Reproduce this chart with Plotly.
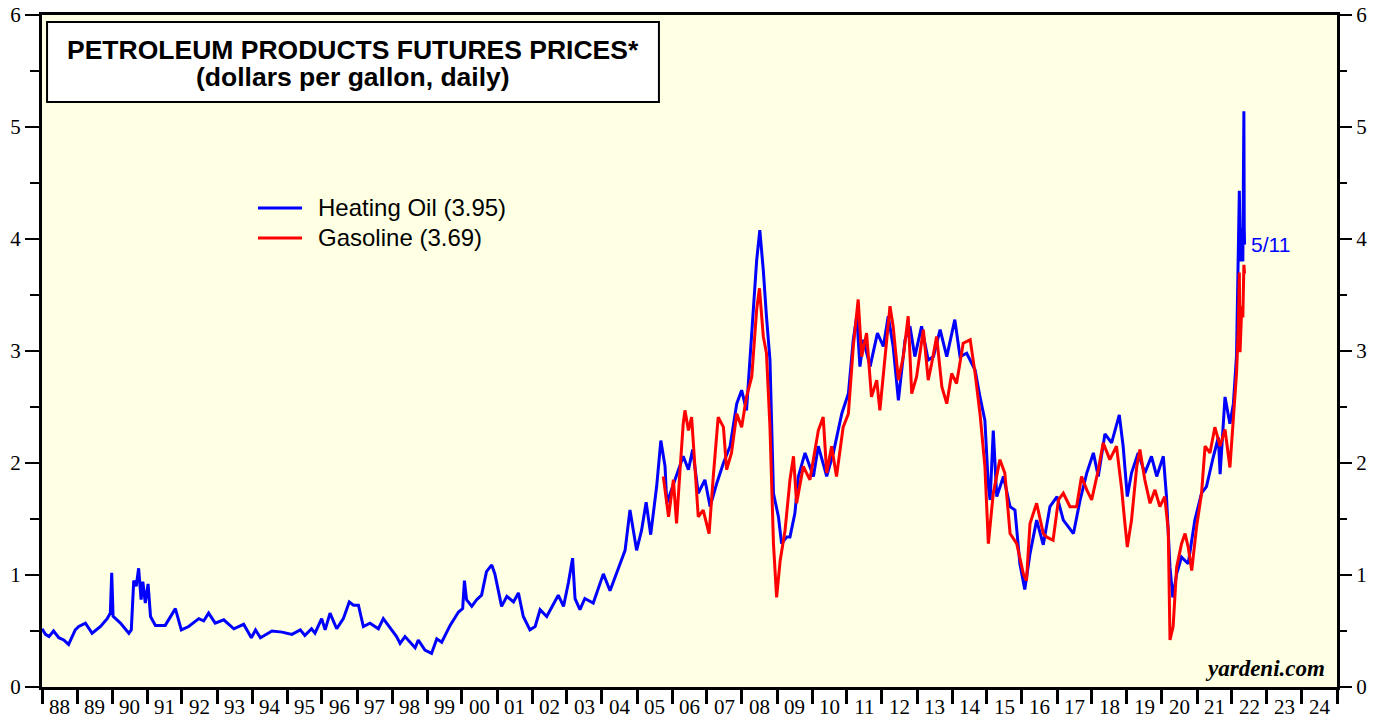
import datetime as dt
import plotly.graph_objects as go

# ---------------- data (decimal year, $/gallon) ----------------
ho_t = [1988.00, 1988.10, 1988.20, 1988.33, 1988.48, 1988.62, 1988.76, 1988.95, 1989.05, 1989.24,
        1989.43, 1989.67, 1989.86, 1989.95, 1989.99, 1990.03, 1990.24, 1990.48, 1990.55, 1990.62,
        1990.69, 1990.76, 1990.83, 1990.88, 1990.95, 1991.03, 1991.10, 1991.24, 1991.52, 1991.67,
        1991.81, 1991.98, 1992.19, 1992.48, 1992.62, 1992.76, 1992.95, 1993.19, 1993.48, 1993.76,
        1993.98, 1994.10, 1994.24, 1994.57, 1994.86, 1995.14, 1995.38, 1995.51, 1995.70, 1995.80,
        1995.99, 1996.09, 1996.23, 1996.42, 1996.61, 1996.78, 1996.90, 1997.04, 1997.18, 1997.37,
        1997.61, 1997.75, 1997.90, 1998.13, 1998.23, 1998.37, 1998.66, 1998.75, 1998.94, 1999.13,
        1999.28, 1999.42, 1999.66, 1999.90, 2000.02, 2000.07, 2000.13, 2000.28, 2000.42, 2000.56,
        2000.70, 2000.85, 2000.94, 2001.13, 2001.28, 2001.47, 2001.61, 2001.75, 2001.94, 2002.09,
        2002.23, 2002.42, 2002.75, 2002.90, 2003.04, 2003.16, 2003.23, 2003.37, 2003.51, 2003.75,
        2004.04, 2004.23, 2004.47, 2004.66, 2004.80, 2004.99, 2005.13, 2005.26, 2005.39, 2005.56,
        2005.68, 2005.80, 2005.85, 2006.09, 2006.32, 2006.47, 2006.59, 2006.75, 2006.94, 2007.09,
        2007.28, 2007.47, 2007.66, 2007.85, 2007.99, 2008.13, 2008.28, 2008.42, 2008.51, 2008.61,
        2008.70, 2008.80, 2008.90, 2009.04, 2009.13, 2009.28, 2009.37, 2009.51, 2009.61, 2009.80,
        2010.04, 2010.18, 2010.42, 2010.61, 2010.85, 2011.04, 2011.18, 2011.28, 2011.37, 2011.47,
        2011.66, 2011.87, 2012.04, 2012.18, 2012.32, 2012.47, 2012.66, 2012.80, 2012.94, 2013.13,
        2013.32, 2013.47, 2013.66, 2013.85, 2014.08, 2014.23, 2014.42, 2014.66, 2014.80, 2014.94,
        2015.04, 2015.09, 2015.18, 2015.28, 2015.47, 2015.66, 2015.80, 2015.94, 2016.08, 2016.23,
        2016.42, 2016.61, 2016.80, 2017.00, 2017.18, 2017.47, 2017.66, 2017.85, 2018.04, 2018.18,
        2018.37, 2018.56, 2018.78, 2018.89, 2019.01, 2019.13, 2019.32, 2019.51, 2019.70, 2019.85,
        2020.04, 2020.13, 2020.23, 2020.31, 2020.42, 2020.56, 2020.75, 2020.94, 2021.13, 2021.27,
        2021.47, 2021.61, 2021.66, 2021.80, 2021.94, 2022.04, 2022.13, 2022.18, 2022.21, 2022.24,
        2022.28, 2022.31, 2022.34, 2022.35, 2022.36]
ho_v = [0.52, 0.47, 0.45, 0.50, 0.44, 0.42, 0.38, 0.51, 0.54, 0.57,
        0.48, 0.54, 0.61, 0.66, 1.02, 0.63, 0.57, 0.48, 0.51, 0.95,
        0.90, 1.06, 0.78, 0.94, 0.75, 0.92, 0.63, 0.55, 0.55, 0.63,
        0.70, 0.51, 0.54, 0.61, 0.59, 0.66, 0.57, 0.60, 0.52, 0.56,
        0.44, 0.51, 0.44, 0.50, 0.49, 0.47, 0.51, 0.46, 0.52, 0.48,
        0.61, 0.51, 0.66, 0.52, 0.61, 0.76, 0.73, 0.73, 0.54, 0.57,
        0.52, 0.61, 0.55, 0.45, 0.39, 0.45, 0.35, 0.42, 0.33, 0.30,
        0.43, 0.40, 0.55, 0.67, 0.70, 0.95, 0.78, 0.72, 0.78, 0.82,
        1.03, 1.09, 1.01, 0.72, 0.81, 0.76, 0.84, 0.63, 0.51, 0.54,
        0.69, 0.63, 0.82, 0.72, 0.93, 1.15, 0.79, 0.69, 0.79, 0.75,
        1.01, 0.86, 1.06, 1.22, 1.58, 1.22, 1.40, 1.65, 1.36, 1.79,
        2.20, 1.97, 1.64, 1.85, 2.06, 1.94, 2.12, 1.73, 1.85, 1.61,
        1.82, 2.00, 2.15, 2.53, 2.65, 2.47, 3.13, 3.81, 4.08, 3.72,
        3.31, 2.92, 1.73, 1.52, 1.28, 1.34, 1.34, 1.55, 1.88, 2.09,
        1.88, 2.15, 1.88, 2.09, 2.44, 2.62, 3.10, 3.31, 2.86, 3.10,
        2.86, 3.16, 3.04, 3.31, 3.04, 2.56, 3.10, 3.22, 2.95, 3.22,
        2.92, 2.95, 3.19, 2.95, 3.28, 2.95, 2.98, 2.83, 2.59, 2.38,
        1.79, 1.67, 2.29, 1.70, 1.88, 1.61, 1.58, 1.10, 0.87, 1.19,
        1.49, 1.27, 1.61, 1.70, 1.49, 1.37, 1.67, 1.91, 2.09, 1.88,
        2.26, 2.18, 2.43, 2.15, 1.70, 1.91, 2.09, 1.91, 2.06, 1.88,
        2.06, 1.70, 1.07, 0.80, 1.01, 1.16, 1.10, 1.49, 1.73, 1.79,
        2.06, 2.23, 1.90, 2.59, 2.35, 2.53, 2.96, 3.79, 4.43, 3.80,
        4.10, 3.80, 5.14, 4.10, 3.95]

gas_t = [2005.75, 2005.90, 2006.04, 2006.13, 2006.23, 2006.32, 2006.37, 2006.47, 2006.56, 2006.66,
         2006.75, 2006.89, 2007.06, 2007.18, 2007.32, 2007.47, 2007.56, 2007.70, 2007.85, 2007.99,
         2008.13, 2008.28, 2008.42, 2008.50, 2008.61, 2008.70, 2008.80, 2008.90, 2008.99, 2009.09,
         2009.23, 2009.37, 2009.47, 2009.56, 2009.75, 2009.94, 2010.18, 2010.32, 2010.42, 2010.56,
         2010.70, 2010.89, 2011.04, 2011.18, 2011.32, 2011.42, 2011.56, 2011.70, 2011.85, 2011.94,
         2012.08, 2012.23, 2012.32, 2012.47, 2012.61, 2012.75, 2012.85, 2012.99, 2013.18, 2013.32,
         2013.42, 2013.56, 2013.71, 2013.85, 2013.99, 2014.13, 2014.32, 2014.52, 2014.66, 2014.80,
         2014.94, 2015.04, 2015.18, 2015.37, 2015.51, 2015.66, 2015.85, 2016.04, 2016.13, 2016.23,
         2016.42, 2016.61, 2016.70, 2016.89, 2017.04, 2017.18, 2017.37, 2017.56, 2017.70, 2017.85,
         2017.99, 2018.18, 2018.32, 2018.51, 2018.70, 2018.85, 2018.94, 2019.01, 2019.13, 2019.28,
         2019.37, 2019.51, 2019.66, 2019.80, 2019.94, 2020.08, 2020.18, 2020.23, 2020.32, 2020.42,
         2020.56, 2020.66, 2020.75, 2020.85, 2020.99, 2021.13, 2021.23, 2021.37, 2021.51, 2021.66,
         2021.80, 2021.94, 2022.04, 2022.13, 2022.18, 2022.21, 2022.23, 2022.28, 2022.31, 2022.34,
         2022.36]
gas_v = [1.88, 1.52, 1.85, 1.46, 1.94, 2.35, 2.47, 2.29, 2.41, 1.94,
         1.52, 1.58, 1.37, 1.88, 2.41, 2.32, 1.94, 2.09, 2.44, 2.32,
         2.59, 2.77, 3.37, 3.56, 3.13, 2.98, 2.32, 1.28, 0.80, 1.13,
         1.40, 1.85, 2.06, 1.64, 1.97, 1.85, 2.29, 2.41, 1.91, 2.15,
         1.88, 2.32, 2.44, 3.04, 3.46, 2.95, 3.16, 2.59, 2.74, 2.47,
         2.89, 3.40, 3.22, 2.74, 2.95, 3.31, 2.62, 2.77, 3.19, 2.74,
         2.89, 3.13, 2.68, 2.53, 2.80, 2.71, 3.07, 3.10, 2.80, 2.44,
         1.97, 1.28, 1.73, 2.03, 1.91, 1.37, 1.28, 1.01, 0.95, 1.46,
         1.64, 1.37, 1.34, 1.31, 1.67, 1.73, 1.61, 1.61, 1.88, 1.76,
         1.67, 1.94, 2.18, 2.03, 2.15, 1.76, 1.46, 1.25, 1.49, 1.97,
         2.12, 1.85, 1.64, 1.76, 1.61, 1.70, 1.40, 0.42, 0.54, 1.07,
         1.28, 1.37, 1.25, 1.04, 1.43, 1.73, 2.15, 2.09, 2.32, 2.15,
         2.30, 1.96, 2.40, 2.80, 3.20, 3.70, 2.99, 3.40, 3.30, 3.77,
         3.69]

series_names = ["Heating Oil (3.95)", "Gasoline (3.69)"]
series_colors = ["#0000FF", "#FF0000"]
last_date_label = "5/11"
chart_title = "PETROLEUM PRODUCTS FUTURES PRICES*"
chart_subtitle = "(dollars per gallon, daily)"
source_label = "yardeni.com"


def to_date(y):
    base = dt.datetime(int(y), 1, 1)
    return base + dt.timedelta(days=(y - int(y)) * 365.25)


ho_x = [to_date(t) for t in ho_t]
gas_x = [to_date(t) for t in gas_t]

fig = go.Figure()
fig.add_trace(go.Scatter(x=ho_x, y=ho_v, mode="lines", name=series_names[0],
                         line=dict(color=series_colors[0], width=3), showlegend=False))
fig.add_trace(go.Scatter(x=gas_x, y=gas_v, mode="lines", name=series_names[1],
                         line=dict(color=series_colors[1], width=3), showlegend=False))
# invisible trace to activate the right-hand y axis
fig.add_trace(go.Scatter(x=[ho_x[0]], y=[ho_v[0]], yaxis="y2", mode="lines",
                         line=dict(width=0), showlegend=False, hoverinfo="skip"))

serif = "Liberation Serif, Times New Roman, serif"
sans = "Liberation Sans, Arial, sans-serif"
tickfont = dict(family=serif, size=21, color="black")

# legend drawn as key lines + labels (paper coordinates)
legend_rows_y = [0.7128, 0.6682]
shapes = [dict(type="rect", xref="paper", yref="paper",
               x0=0.0039, x1=0.4764, y0=0.8705, y1=0.9896,
               fillcolor="white", line=dict(color="black", width=2), layer="above")]
annotations = []
for name, color, ly in zip(series_names, series_colors, legend_rows_y):
    shapes.append(dict(type="line", xref="paper", yref="paper", x0=0.1668, x1=0.2008,
                       y0=ly, y1=ly, line=dict(color=color, width=3)))
    annotations.append(dict(text=name, xref="paper", yref="paper", x=0.2116, y=ly,
                            xanchor="left", yanchor="middle", showarrow=False,
                            font=dict(family=sans, size=24, color="black")))

annotations += [
    dict(text="<b>" + chart_title + "</b>", xref="paper", yref="paper",
         x=0.2402, y=0.9479, xanchor="center", yanchor="middle", showarrow=False,
         font=dict(family=sans, size=26.5, color="black")),
    dict(text="<b>" + chart_subtitle + "</b>", xref="paper", yref="paper",
         x=0.2402, y=0.9077, xanchor="center", yanchor="middle", showarrow=False,
         font=dict(family=sans, size=26.5, color="black")),
    dict(text=last_date_label, xref="x", yref="y", x=to_date(2022.5), y=3.95,
         xanchor="left", yanchor="middle", showarrow=False,
         font=dict(family=sans, size=21, color=series_colors[0])),
    dict(text="<b><i>" + source_label + "</i></b>", xref="paper", yref="paper",
         x=0.9923, y=0.006, xanchor="right", yanchor="bottom", showarrow=False,
         font=dict(family=serif, size=23, color="black")),
]

fig.update_layout(
    width=1384, height=719,
    margin=dict(l=34, r=55, t=7, b=40),
    paper_bgcolor="white",
    plot_bgcolor="#FFFFE3",
    showlegend=False,
    xaxis=dict(
        type="date", automargin=False,
        range=[dt.datetime(1988, 1, 1), dt.datetime(2025, 1, 1)],
        tick0="1988-01-01", dtick="M12",
        ticklabelmode="period",
        tickformat="%y",
        ticks="outside", ticklen=14, tickwidth=2.5, tickcolor="black",
        ticklabelstandoff=-15,
        ticklabeloverflow="allow",
        showgrid=False, zeroline=False,
        showline=True, linecolor="black", linewidth=3, mirror=True,
        tickfont=tickfont,
    ),
    yaxis=dict(
        range=[0, 6], dtick=1, tick0=0, automargin=False,
        ticks="outside", ticklen=14, tickwidth=1.5, tickcolor="black",
        minor=dict(dtick=0.5, ticks="outside", ticklen=9, tickwidth=1.5, tickcolor="black"),
        ticklabeloverflow="allow",
        showgrid=False, zeroline=False,
        showline=True, linecolor="black", linewidth=3, mirror=True,
        tickfont=tickfont,
    ),
    yaxis2=dict(
        range=[0, 6], dtick=1, tick0=0, overlaying="y", side="right", automargin=False,
        ticks="outside", ticklen=14, tickwidth=1.5, tickcolor="black",
        minor=dict(dtick=0.5, ticks="outside", ticklen=9, tickwidth=1.5, tickcolor="black"),
        ticklabeloverflow="allow",
        showgrid=False, zeroline=False, showline=False,
        tickfont=tickfont,
    ),
    shapes=shapes,
    annotations=annotations,
)

fig.write_html("out.html")
